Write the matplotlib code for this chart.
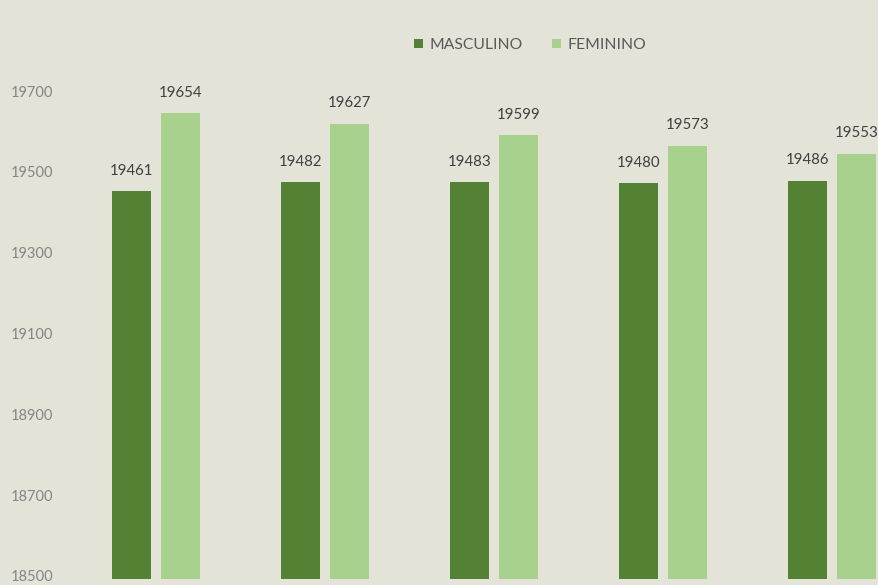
import matplotlib.pyplot as plt
import matplotlib.transforms as mtransforms
import numpy as np

plt.rcParams['font.family'] = ['Lato', 'DejaVu Sans']

# data
groups = ["1", "2", "3", "4", "5"]
masculino = [19461, 19482, 19483, 19480, 19486]
feminino = [19654, 19627, 19599, 19573, 19553]
yticks = [18500, 18700, 18900, 19100, 19300, 19500, 19700]

bg = "#e3e3d8"
dark = "#548235"
light = "#a9d18e"

fig = plt.figure(figsize=(8.79, 5.85), dpi=100, facecolor=bg)
ax = fig.add_axes([71.5 / 879, 6 / 585, 1 - 71.5 / 879, 579 / 585])
ax.set_facecolor(bg)

x = np.arange(len(groups))
w = 0.225
off = 0.145
b1 = ax.bar(x - off, masculino, w, color=dark, label="MASCULINO")
b2 = ax.bar(x + off, feminino, w, color=light, label="FEMININO")

for bars, vals in [(b1, masculino), (b2, feminino)]:
    for r, v in zip(bars, vals):
        ax.annotate(str(v), (r.get_x() + r.get_width() / 2, v),
                    xytext=(0, 9.5), textcoords="offset points",
                    ha="center", va="bottom", fontsize=10.8, color="#404040")

ax.set_ylim(18500, 18500 + 579 / 0.404)
ax.set_xlim(-0.5, (879 - 71.5) / 169 - 0.5)
ax.set_yticks(yticks)
ax.set_xticks([])
ax.tick_params(axis="y", length=0, pad=13, labelsize=10.5, labelcolor="#858585")
# tick labels sit a little above their gridline, like in the source
shift = mtransforms.ScaledTranslation(0, 3 / 100, fig.dpi_scale_trans)
for lab in ax.get_yticklabels():
    lab.set_transform(lab.get_transform() + shift)
for s in ax.spines.values():
    s.set_visible(False)

fig.legend(handles=[b1, b2], loc="center", bbox_to_anchor=(0.6035, 0.923),
           ncol=2, frameon=False, fontsize=11.3, labelcolor="#595959",
           handlelength=0.55, handleheight=0.55, handletextpad=0.45,
           columnspacing=1.85)

fig.savefig("out.png", dpi=100, facecolor=bg)
